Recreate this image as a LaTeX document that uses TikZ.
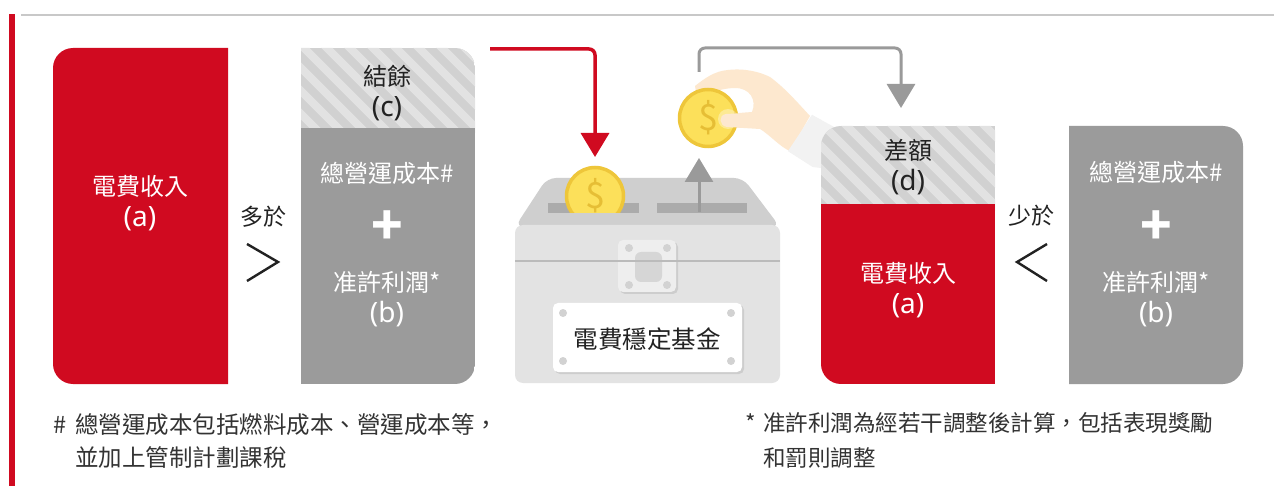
\documentclass[tikz,border=0pt]{standalone}
\usepackage{fontspec}
\setmainfont{Noto Sans CJK TC}
\newfontfamily\latinfont{Noto Sans}
\usetikzlibrary{arrows.meta}
\definecolor{cred}{HTML}{D00A20}
\definecolor{cgray}{HTML}{9B9B9B}
\definecolor{chatch}{HTML}{D1D1D1}
\definecolor{cstripe}{HTML}{E2E2E2}
\definecolor{clid}{HTML}{CFCFCF}
\definecolor{cbody}{HTML}{E3E3E3}
\definecolor{cseam}{HTML}{BBBBBB}
\definecolor{cslot}{HTML}{ABABAB}
\definecolor{carrow}{HTML}{9A9A9A}
\definecolor{ccoin}{HTML}{FCE05A}
\definecolor{cring}{HTML}{EEC63A}
\definecolor{cdollar}{HTML}{E6BE35}
\definecolor{chand}{HTML}{FDE8CF}
\definecolor{ccuff}{HTML}{F2F2F2}
\definecolor{ctext}{HTML}{222222}
\definecolor{cnote}{HTML}{333333}
\definecolor{ctop}{HTML}{C8C8C8}
\definecolor{cscrew}{HTML}{D2D2D2}
\definecolor{clatch}{HTML}{EEEEEE}
\definecolor{clatchin}{HTML}{D6D6D6}
\definecolor{cshadow}{HTML}{CDCDCD}
\newcommand{\latinline}[1]{{\latinfont\fontsize{28}{30}\selectfont #1}}
\begin{document}
\begin{tikzpicture}[x=1pt,y=-1pt,
  boxtxt/.style={font=\fontsize{24}{31}\selectfont, align=center, text=white, inner sep=0pt},
  darktxt/.style={boxtxt, text=ctext},
  plustxt/.style={font=\fontsize{52}{52}\selectfont\bfseries, text=white, inner sep=0pt},
  cmptxt/.style={font=\fontsize{23}{23}\selectfont, text=ctext, inner sep=0pt},
  cmpsign/.style={draw=ctext, line width=2.4pt, line join=miter},
  noteL/.style={font=\fontsize{23.5}{23.5}\selectfont, text=cnote, inner sep=0pt, anchor=base west},
  noteR/.style={font=\fontsize{22.5}{22.5}\selectfont, text=cnote, inner sep=0pt, anchor=base west},
  stripe/.style={draw=cstripe, line width=8pt},
  redflow/.style={draw=cred, line width=3.5pt, rounded corners=6pt, -{Triangle[width=28pt,length=24pt]}},
  grayflow/.style={draw=carrow, line width=3pt, rounded corners=6pt, -{Triangle[width=28pt,length=24pt]}},
  coin/.style={circle, minimum size=57pt, fill=ccoin, draw=cring, line width=3.5pt, inner sep=0pt, text=cdollar, font=\fontsize{36}{36}\selectfont},
  screw/.style={circle, fill=cscrew, minimum size=8pt, inner sep=0pt},
  platetxt/.style={font=\fontsize{24.5}{24.5}\selectfont, text=ctext, inner sep=0pt}
]
\useasboundingbox (0,0) rectangle (1274,486);
\fill[white] (0,0) rectangle (1274,486);
% frame lines
\draw[ctop, line width=1.5pt] (21,15) -- (1274,15);
\fill[cred] (9,14) rectangle (15,486);

% Box A: red revenue
\fill[cred] (228,48) -- (73,48) .. controls (62,48) and (53,57) .. (53,68) -- (53,364) .. controls (53,375) and (62,384) .. (73,384) -- (228,384) -- cycle;
\node[boxtxt] (revA) at (140,203) {電費收入\\\latinline{(a)}};

% Box B: surplus + cost
\begin{scope}
\clip (301,48) -- (455,48) .. controls (466,48) and (475,57) .. (475,68) -- (475,364) .. controls (475,375) and (466,384) .. (455,384) -- (301,384) -- cycle;
\fill[chatch] (301,48) rectangle (475,130);
\foreach \k in {-120,-97,...,200} \draw[stripe] (301+\k,40) -- ++(100,100);
\fill[cgray] (301,128) rectangle (475,384);
\end{scope}
\node[darktxt] (surC) at (387,93) {結餘\\\latinline{(c)}};
\node[boxtxt] (costB) at (387,173) {總營運成本\#};
\node[plustxt] (plusB) at (387,228) {+};
\node[boxtxt] (profB) at (387,299) {准許利潤*\\\latinline{(b)}};

% comparison left
\node[cmptxt] (more) at (263,217) {多於};
\draw[cmpsign] (247,244) -- (278,262) -- (247,281);

% Box D: difference + revenue
\fill[ccuff] (812,115) -- (836,128) -- (836,170) -- (813,167) -- (788,151) -- cycle;
\begin{scope}
\clip (995,126) -- (841,126) .. controls (830,126) and (821,135) .. (821,146) -- (821,364) .. controls (821,375) and (830,384) .. (841,384) -- (995,384) -- cycle;
\fill[chatch] (821,126) rectangle (995,206);
\foreach \k in {-120,-97,...,200} \draw[stripe] (821+\k,118) -- ++(100,100);
\fill[cred] (821,204) rectangle (995,384);
\end{scope}
\node[darktxt] (difD) at (908,167) {差額\\\latinline{(d)}};
\node[boxtxt] (revD) at (908,290) {電費收入\\\latinline{(a)}};

% comparison right
\node[cmptxt] (less) at (1031,216) {少於};
\draw[cmpsign] (1047,244) -- (1017,262) -- (1047,281);

% Box E: cost
\fill[cgray] (1069,126) -- (1223,126) .. controls (1234,126) and (1243,135) .. (1243,146) -- (1243,364) .. controls (1243,375) and (1234,384) .. (1223,384) -- (1069,384) -- cycle;
\node[boxtxt] (costE) at (1156,172) {總營運成本\#};
\node[plustxt] (plusE) at (1156,228) {+};
\node[boxtxt] (profE) at (1156,299) {准許利潤*\\\latinline{(b)}};

% fund box
\fill[clid, rounded corners=9pt] (547,178) -- (743,178) -- (780,227) -- (515,227) -- cycle;
\fill[cbody, rounded corners=8pt] (515,225) rectangle (780,383);
\fill[cslot] (548,203) rectangle (639,213);
\fill[cslot] (657,203) rectangle (747,213);
\fill[cshadow, rounded corners=5pt] (620,242) rectangle (678,294);
\fill[clatch, rounded corners=5pt] (618,240) rectangle (676,292);
\fill[clatchin, rounded corners=6pt] (635,252) rectangle (662,282);
\draw[cseam, line width=2pt] (515,261) -- (780,261);
\node[screw] (ls1) at (629,248) {};
\node[screw] (ls2) at (667,248) {};
\node[screw] (ls3) at (629,285) {};
\node[screw] (ls4) at (667,285) {};
\fill[cshadow, rounded corners=5pt] (555,305) rectangle (744,374);
\fill[white, rounded corners=5pt] (553,303) rectangle (742,372);
\node[screw] (ps1) at (563,313) {};
\node[screw] (ps2) at (731,313) {};
\node[screw] (ps3) at (563,361) {};
\node[screw] (ps4) at (731,361) {};
\node[platetxt] (plate) at (647,339) {電費穩定基金};

% coin entering slot
\begin{scope}
\clip (540,140) rectangle (660,213);
\node[coin] (coin1) at (595,196) {\$};
\end{scope}

% flows
\coordinate (rs) at (490,49);
\coordinate (rt) at (595,157);
\draw[redflow] (rs) -| (rt);
\coordinate (us) at (699,212);
\coordinate (ut) at (699,158);
\draw[grayflow] (us) -- (ut);
\coordinate (gs) at (699,72);
\coordinate (gc) at (699,48);
\coordinate (gt) at (901,108);
\draw[grayflow] (gs) -- (gc) -| (gt);

% hand with coin
\fill[chand] (695,86) .. controls (705,78) and (715,71) .. (728,70) .. controls (745,68) and (760,72) .. (770,77) .. controls (785,88) and (797,102) .. (810,116) -- (790,151) .. controls (780,147) and (770,135) .. (760,129) -- (727,127) .. controls (719,126) and (718,115) .. (726,114) -- (752,112) .. controls (757,100) and (750,88) .. (735,88) .. controls (720,88) and (705,95) .. (697,97) -- cycle;
\fill[ccuff] (812,115) -- (821,120) -- (821,166) -- (813,167) -- (788,151) -- cycle;
\node[coin] (coin2) at (708,118) {\$};
\fill[white, opacity=0.35] (728,119) circle (10);
\fill[chand] (746,128) -- (727,127) .. controls (719,126) and (718,115) .. (726,114) -- (746,113) -- cycle;

% footnotes
\node[noteL] (fnLa) at (53,433) {\#};
\node[noteL] (fnLb) at (75,433) {總營運成本包括燃料成本、營運成本等，};
\node[noteL] (fnLc) at (75,466) {並加上管制計劃課稅};
\node[noteR] (fnRa) at (745,431) {*};
\node[noteR] (fnRb) at (763,431) {准許利潤為經若干調整後計算，包括表現獎勵};
\node[noteR] (fnRc) at (763,466) {和罰則調整};
\end{tikzpicture}
\end{document}
